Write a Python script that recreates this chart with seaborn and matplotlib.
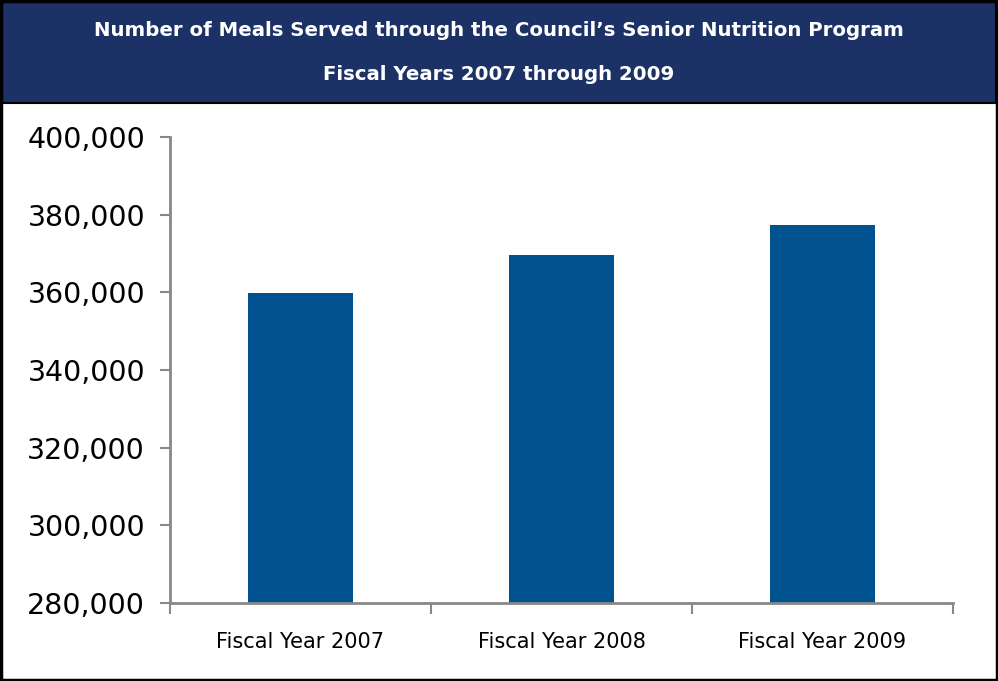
import matplotlib
matplotlib.use("Agg")
import matplotlib.pyplot as plt
import seaborn as sns
import pandas as pd
from matplotlib.patches import Rectangle
from matplotlib.ticker import FuncFormatter, FixedLocator

categories = ["Fiscal Year 2007", "Fiscal Year 2008", "Fiscal Year 2009"]
meals = [359800, 369600, 377300]
title_lines = ["Number of Meals Served through the Council\u2019s Senior Nutrition Program",
               "Fiscal Years 2007 through 2009"]

df = pd.DataFrame({"year": categories, "meals": meals})

sns.set_theme(style="white")
plt.rcParams['font.family'] = ['DejaVu Sans']

W, H = 998, 681
fig = plt.figure(figsize=(W / 100, H / 100), dpi=100)
ax = fig.add_axes([170 / W, 1 - 603 / H, (953 - 170) / W, (603 - 137) / H])

sns.barplot(data=df, x="year", y="meals", color="#00538F", width=0.4,
            saturation=1, linewidth=0, ax=ax)

ax.set_ylim(280000, 400000)
ax.set_xlim(-0.5, 2.5)
ax.set_yticks(range(280000, 400001, 20000))
ax.yaxis.set_major_formatter(FuncFormatter(lambda v, p: f"{int(v):,}"))
ax.xaxis.set_minor_locator(FixedLocator([-0.5, 0.5, 1.5, 2.5]))
ax.tick_params(axis="x", which="major", length=0, pad=21, labelsize=15,
               labelcolor="black")
ax.tick_params(axis="x", which="minor", length=8, width=1.5, color="#888888",
               bottom=True)
ax.tick_params(axis="y", length=7, width=1.5, color="#888888", left=True,
               labelsize=20.5, labelcolor="black", pad=11)
ax.set_xlabel("")
ax.set_ylabel("")
for s in ["top", "right"]:
    ax.spines[s].set_visible(False)
for s in ["left", "bottom"]:
    ax.spines[s].set_color("#888888")
    ax.spines[s].set_linewidth(2)

# header band
fig.patches.append(Rectangle((2 / W, 1 - 103 / H), (W - 4) / W, 101 / H,
                             transform=fig.transFigure, facecolor="#1C3166",
                             edgecolor="black", linewidth=1.5, zorder=0))
# outer border
fig.patches.append(Rectangle((1 / W, 1 / H), (W - 2) / W, (H - 2) / H,
                             transform=fig.transFigure, facecolor="none",
                             edgecolor="black", linewidth=2.5, zorder=5))

fig.text(0.5, 1 - 31 / H, title_lines[0], ha="center", va="center",
         color="white", fontsize=14.2, fontweight="bold")
fig.text(0.5, 1 - 74 / H, title_lines[1], ha="center", va="center",
         color="white", fontsize=14.2, fontweight="bold")

fig.savefig("out.png", dpi=100)
